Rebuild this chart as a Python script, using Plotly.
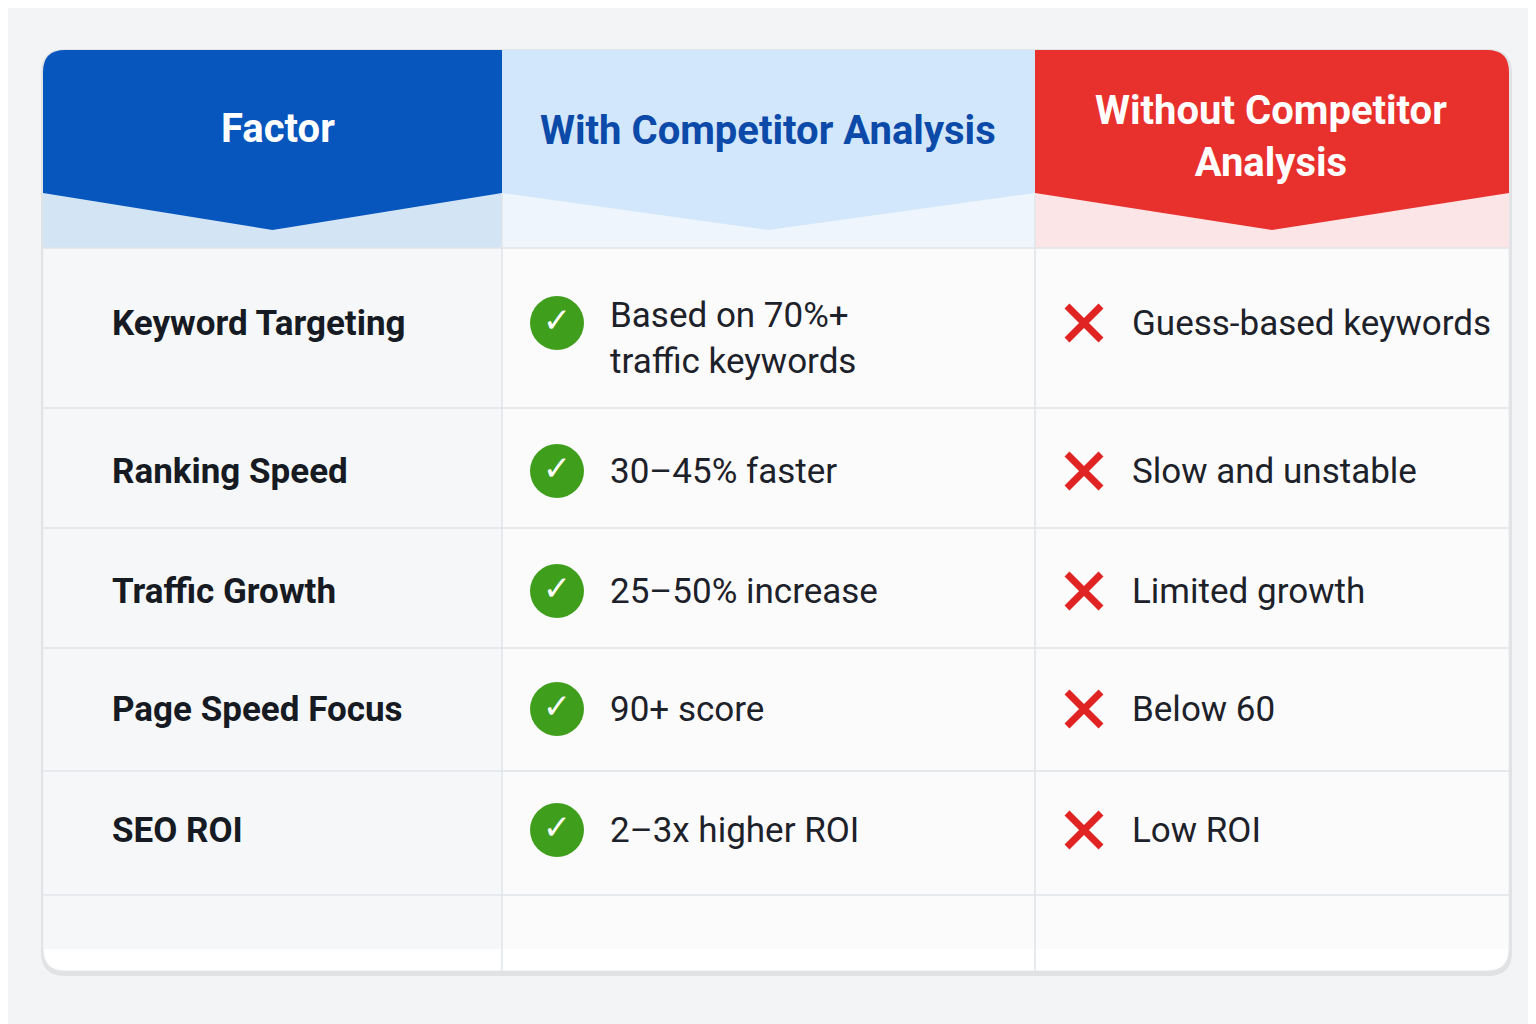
import plotly.graph_objects as go

factors = ["Keyword Targeting", "Ranking Speed", "Traffic Growth", "Page Speed Focus", "SEO ROI"]
with_values = ["Based on 70%+<br>traffic keywords", "30–45% faster", "25–50% increase", "90+ score", "2–3x higher ROI"]
without_values = ["Guess-based keywords", "Slow and unstable", "Limited growth", "Below 60", "Low ROI"]
headers = ["Factor", "With Competitor Analysis", "Without Competitor<br>Analysis"]

# geometry (pixels, y down)
W, H = 1536, 1024
L, R, T, B = 35, 1501, 42, 963
cols = [35, 494, 1027, 1501]
row_edges = [240, 400, 520, 640, 763, 887]
row_centers = [315, 463, 583, 701, 822]
FONT = "Roboto, Open Sans, sans-serif"


def rounded(x0, y0, x1, y1, r, top=True, bottom=True):
    p = f"M{x0+r},{y0} " if top else f"M{x0},{y0} "
    if top:
        p += f"L{x1-r},{y0} Q{x1},{y0} {x1},{y0+r} "
    else:
        p += f"L{x1},{y0} "
    if bottom:
        p += f"L{x1},{y1-r} Q{x1},{y1} {x1-r},{y1} L{x0+r},{y1} Q{x0},{y1} {x0},{y1-r} "
    else:
        p += f"L{x1},{y1} L{x0},{y1} "
    if top:
        p += f"L{x0},{y0+r} Q{x0},{y0} {x0+r},{y0} Z"
    else:
        p += "Z"
    return p


shapes = []
# card shadow + body
shapes.append(dict(type="path", path=rounded(L - 2, T - 1, R + 3, B + 5, 24), fillcolor="rgba(0,0,0,0.07)", line_width=0, layer="below"))
shapes.append(dict(type="path", path=rounded(L, T, R, B, 22), fillcolor="#ffffff", line=dict(color="#e3e6ea", width=1), layer="below"))
# first column slightly grey
shapes.append(dict(type="rect", x0=cols[0] + 1, x1=cols[1], y0=240, y1=B - 22, fillcolor="#f6f7f9", line_width=0, layer="below"))
shapes.append(dict(type="rect", x0=cols[1], x1=cols[3] - 1, y0=240, y1=B - 22, fillcolor="#fbfbfc", line_width=0, layer="below"))

# header bands + chevrons
head = [("#0656bd", "#d3e4f5"), ("#d2e7fb", "#eef5fd"), ("#e8302d", "#fbe5e7")]
for i, (c_main, c_band) in enumerate(head):
    x0, x1 = cols[i], cols[i + 1]
    xm = (x0 + x1) / 2
    shapes.append(dict(type="rect", x0=x0, x1=x1, y0=150, y1=240, fillcolor=c_band, line_width=0))
    r0 = 22 if i == 0 else 0
    r1 = 22 if i == 2 else 0
    p = f"M{x0+r0},{T} L{x1-r1},{T} "
    if r1:
        p += f"Q{x1},{T} {x1},{T+r1} "
    p += f"L{x1},{185} L{xm},{222} L{x0},{185} L{x0},{T+r0} "
    if r0:
        p += f"Q{x0},{T} {x0+r0},{T} "
    p += "Z"
    shapes.append(dict(type="path", path=p, fillcolor=c_main, line_width=0))

# grid lines
for y in row_edges:
    shapes.append(dict(type="line", x0=L, x1=R, y0=y, y1=y, line=dict(color="#e1e4e8", width=1.5)))
for x in cols[1:3]:
    shapes.append(dict(type="line", x0=x, x1=x, y0=185, y1=B, line=dict(color="#e1e4e8", width=1.5)))

fig = go.Figure()

# icons
fig.add_trace(go.Scatter(x=[549] * len(factors), y=row_centers, mode="markers+text",
                         marker=dict(symbol="circle", size=54, color="#3f9e1c"),
                         text=["✓"] * len(factors), textfont=dict(color="white", size=34, family="DejaVu Sans"),
                         hoverinfo="skip", showlegend=False))
fig.add_trace(go.Scatter(x=[1076] * len(factors), y=row_centers, mode="markers",
                         marker=dict(symbol="x-thin", size=34, line=dict(color="#e02424", width=7)),
                         hoverinfo="skip", showlegend=False))

ann = []
hx = [270, 760, 1263]
hy = [120, 122, 128]
hc = ["white", "#0b4aa8", "white"]
for i, h in enumerate(headers):
    ann.append(dict(x=hx[i], y=hy[i], text=f"<b>{h}</b>", showarrow=False, xanchor="center", yanchor="middle",
                    font=dict(family=FONT, size=40, color=hc[i])))
for f, wv, wo, y in zip(factors, with_values, without_values, row_centers):
    ann.append(dict(x=102, y=y, text=f"<b>{f}</b>", showarrow=False, xanchor="left", yanchor="middle",
                    font=dict(family=FONT, size=35, color="#161a22")))
    ty = y + 15 if "<br>" in wv else y
    ann.append(dict(x=600, y=ty, text=wv, showarrow=False, xanchor="left", yanchor="middle", align="left",
                    font=dict(family=FONT, size=35, color="#1d2129")))
    ann.append(dict(x=1122, y=y, text=wo, showarrow=False, xanchor="left", yanchor="middle",
                    font=dict(family=FONT, size=35, color="#1d2129")))

fig.update_layout(
    width=W, height=H, margin=dict(l=0, r=0, t=0, b=0),
    paper_bgcolor="#f3f4f6", plot_bgcolor="#f3f4f6",
    xaxis=dict(range=[0, W], visible=False, fixedrange=True),
    yaxis=dict(range=[H, 0], visible=False, fixedrange=True),
    shapes=shapes, annotations=ann,
)
fig.write_html("out.html")
